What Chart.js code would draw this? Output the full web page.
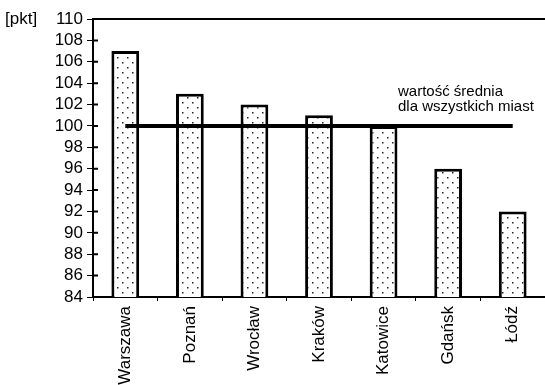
<!DOCTYPE html>
<html>
<head>
<meta charset="utf-8">
<script src="https://cdn.jsdelivr.net/npm/chart.js@4/dist/chart.umd.min.js"></script>
<style>
  html, body { margin: 0; padding: 0; background: #fff; overflow: hidden; }
  #wrap { width: 545px; height: 385px; position: relative; }
</style>
</head>
<body>
<div id="wrap"><canvas id="c" width="545" height="385"></canvas></div>
<script>
const cities = ['Warszawa', 'Poznań', 'Wrocław', 'Kraków', 'Katowice', 'Gdańsk', 'Łódź'];
const points = [107, 103, 102, 101, 100, 96, 92];
const average = [100, 100, 100, 100, 100, 100, 100];
const yMin = 84;
const yMax = 110;
const yStep = 2;
const unitLabel = '[pkt]';
const avgLabel = ['wartość średnia', 'dla wszystkich miast'];

// kropkowane wypełnienie słupków
function dotPattern() {
  const p = document.createElement('canvas');
  p.width = 10; p.height = 10;
  const g = p.getContext('2d');
  g.fillStyle = '#fff';
  g.fillRect(0, 0, 10, 10);
  g.fillStyle = '#222';
  g.fillRect(2, 2, 1.5, 1.5);
  g.fillRect(7, 7, 1.5, 1.5);
  return g.createPattern(p, 'repeat');
}

const font = "'Liberation Sans', Arial, sans-serif";

const extras = {
  id: 'extras',
  afterDraw(chart) {
    const { ctx, chartArea } = chart;
    const ys = chart.scales.y;
    ctx.save();
    // górna ramka
    ctx.strokeStyle = '#000';
    ctx.lineWidth = 2;
    ctx.beginPath();
    ctx.moveTo(chartArea.left, chartArea.top);
    ctx.lineTo(chart.width, chartArea.top);
    // kreski podziałki przechodzące przez oś
    ys.ticks.forEach(t => {
      const py = ys.getPixelForValue(t.value);
      ctx.moveTo(chartArea.left, py);
      ctx.lineTo(chartArea.left + 5, py);
    });
    ctx.stroke();
    // jednostka
    ctx.fillStyle = '#000';
    ctx.font = '17px ' + font;
    ctx.textBaseline = 'middle';
    ctx.fillText(unitLabel, 5, chartArea.top);
    // opis linii średniej
    ctx.font = '15px ' + font;
    ctx.textBaseline = 'alphabetic';
    const y = ys.getPixelForValue(100);
    ctx.fillText(avgLabel[0], 398, y - 30);
    ctx.fillText(avgLabel[1], 398, y - 15);
    ctx.restore();
  }
};

new Chart(document.getElementById('c'), {
  data: {
    labels: cities,
    datasets: [
      {
        type: 'line',
        data: average,
        borderColor: '#000',
        borderWidth: 4,
        pointRadius: 0,
        order: 0
      },
      {
        type: 'bar',
        data: points,
        backgroundColor: dotPattern(),
        borderColor: '#000',
        borderWidth: 3,
        borderSkipped: 'bottom',
        barPercentage: 0.43,
        categoryPercentage: 1,
        order: 1
      }
    ]
  },
  plugins: [extras],
  options: {
    responsive: false,
    animation: false,
    layout: { padding: { top: 19, right: -3, left: 0, bottom: 0 } },
    plugins: {
      legend: { display: false },
      tooltip: { enabled: false }
    },
    scales: {
      x: {
        grid: {
          display: true,
          drawOnChartArea: false,
          offset: true,
          color: '#000',
          tickLength: 4
        },
        border: { color: '#000', width: 2 },
        ticks: {
          color: '#000',
          font: { family: font, size: 17 },
          minRotation: 90,
          maxRotation: 90,
          autoSkip: false,
          padding: 5
        },
        afterFit(s) { s.height = 88; }
      },
      y: {
        min: yMin,
        max: yMax,
        grid: {
          display: true,
          drawOnChartArea: false,
          color: '#000',
          tickLength: 6
        },
        border: { color: '#000', width: 2 },
        ticks: {
          stepSize: yStep,
          autoSkip: false,
          color: '#000',
          font: { family: font, size: 17 },
          padding: 4
        },
        afterFit(s) { s.width = 93; }
      }
    }
  }
});
</script>
</body>
</html>
